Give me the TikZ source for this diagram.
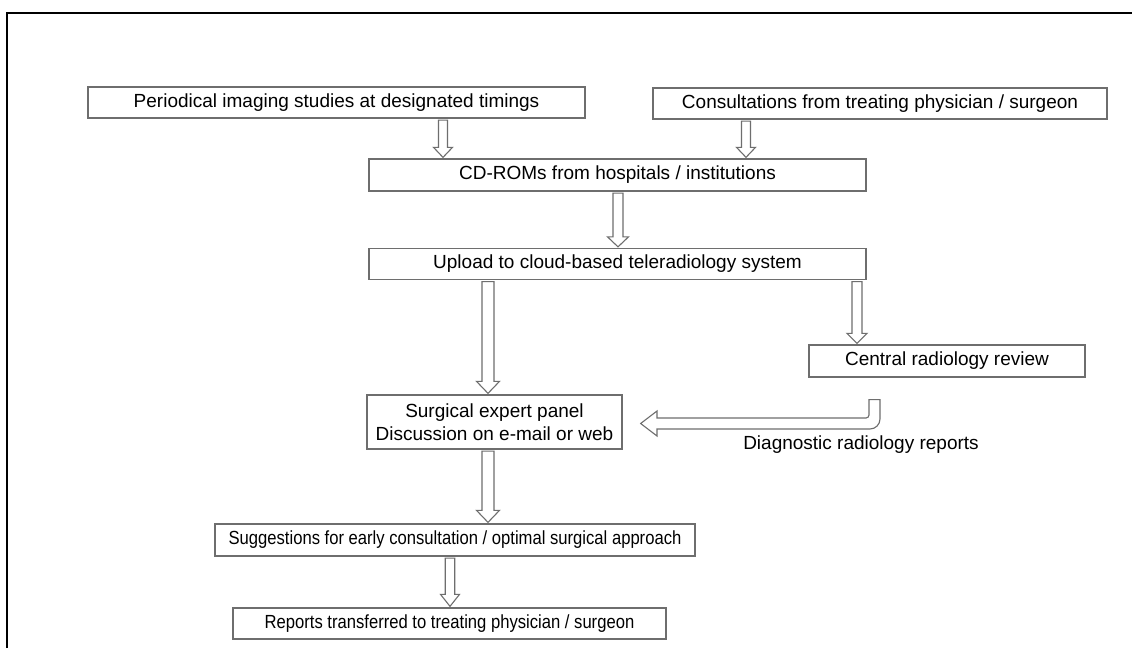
\documentclass[tikz,border=0pt]{standalone}
\usepackage{fontspec}
\setmainfont{Liberation Sans}
\newfontfamily\condfont[FakeStretch=0.875]{Liberation Sans}
\usetikzlibrary{calc}
\definecolor{boxgray}{HTML}{6E6E6E}
\tikzset{
  box/.style={draw=boxgray, line width=1.3pt, fill=white, inner sep=0pt, font=\fontsize{19}{23}\selectfont, text=black, align=center},
  smallbox/.style={box, font=\condfont\fontsize{19}{23}\selectfont},
  fat/.style={draw=boxgray, line width=1.1pt, fill=white, line join=miter},
  lbl/.style={inner sep=0pt, font=\fontsize{19}{23}\selectfont, text=black}
}
% #1 x, #2 from node, #3 to node, #4 shaft half, #5 head half, #6 head length
\newcommand\fatdown[6]{%
  \draw[fat] let \p1=(#2.south), \p2=(#3.north) in
    (#1pt-#4pt,\y1-1.5pt) -- (#1pt+#4pt,\y1-1.5pt) -- (#1pt+#4pt,\y2+#6pt+1pt)
    -- (#1pt+#5pt,\y2+#6pt+1pt) -- (#1pt,\y2+1pt) -- (#1pt-#5pt,\y2+#6pt+1pt)
    -- (#1pt-#4pt,\y2+#6pt+1pt) -- cycle;}
\begin{document}
\begin{tikzpicture}[x=1pt,y=-1pt]
\useasboundingbox (0,0) rectangle (1132,648);
\fill[white] (0,0) rectangle (1132,648);
% outer frame (clipped)
\draw[black, line width=1.8pt] (7,648) -- (7,13) -- (1132,13);

\node[box, minimum width=497pt, minimum height=31pt] (b1) at (336.5,102.5) {Periodical imaging studies at designated timings};
\node[box, minimum width=454pt, minimum height=31pt] (b2) at (880,103.5) {Consultations from treating physician / surgeon};
\node[box, minimum width=497pt, minimum height=32pt] (b3) at (617.5,175) {CD-ROMs from hospitals / institutions};
\node[box, minimum width=497pt, minimum height=31pt] (b4) at (617.5,264) {Upload to cloud-based teleradiology system};
\node[box, minimum width=276pt, minimum height=32pt] (b5) at (947,361) {Central radiology review};
\node[box, minimum width=255pt, minimum height=54pt] (b6) at (494.5,422) {Surgical expert panel\\Discussion on e-mail or web};
\node[smallbox, minimum width=480pt, minimum height=32pt] (b7) at (455,540) {Suggestions for early consultation / optimal surgical approach};
\node[smallbox, minimum width=433pt, minimum height=31pt] (b8) at (449.5,623.5) {Reports transferred to treating physician / surgeon};

\node[lbl] (dl) at (861,445) {Diagnostic radiology reports};

\fatdown{443}{b1}{b3}{4.5}{9.5}{10}
\fatdown{746}{b2}{b3}{4.5}{9.5}{10}
\fatdown{618}{b3}{b4}{5}{10.5}{10}
\fatdown{857}{b4}{b5}{5}{10}{10}
\fatdown{488}{b4}{b6}{6}{11.5}{12}
\fatdown{488}{b6}{b7}{6}{11.5}{12}
\fatdown{450}{b7}{b8}{4.75}{9.5}{12}

% bent arrow from central review to surgical panel
\coordinate (bt) at ($(b5.south)+(-78,22)$);
\draw[fat] let \p1=(bt), \p2=(b6.east) in
  (869,\y1) -- (880,\y1) -- (880,419)
  .. controls (880,424.5) and (875.5,429) .. (870,429)
  -- (657,429) -- (657,436) -- (\x2+18pt,423.5) -- (657,411) -- (657,418)
  -- (866,418) .. controls (867.6,418) and (869,416.6) .. (869,415) -- cycle;
\end{tikzpicture}
\end{document}
